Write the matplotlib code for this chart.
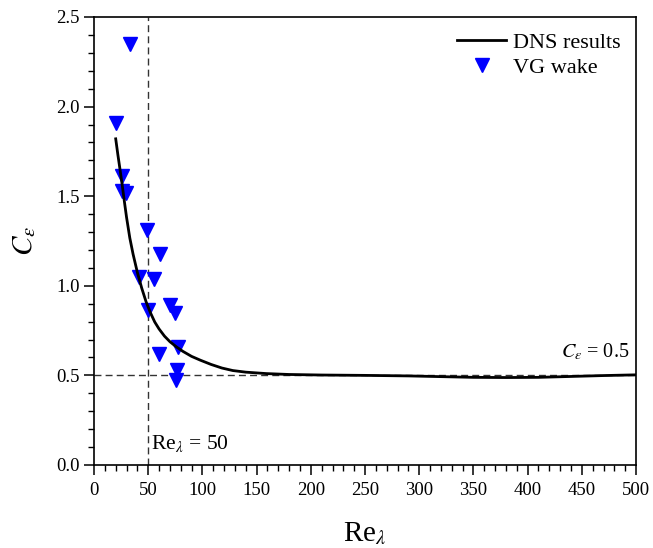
import matplotlib
matplotlib.use("Agg")
import matplotlib.pyplot as plt
import numpy as np

plt.rcParams['font.family'] = ['Liberation Serif', 'DejaVu Serif']
plt.rcParams['mathtext.fontset'] = 'stix'

# DNS curve
dns_re = [20, 22, 24, 26, 28, 30, 33, 36, 40, 44, 48, 52, 56, 60, 65, 70, 76, 82, 90,
          98, 108, 118, 128, 140, 159, 180, 210, 250, 290, 320, 350, 380, 410, 440,
          470, 500]
dns_ce = [1.82, 1.731, 1.648, 1.562, 1.470, 1.382, 1.267, 1.177, 1.074, 0.987, 0.911,
          0.850, 0.798, 0.759, 0.719, 0.688, 0.659, 0.634, 0.606, 0.585, 0.561, 0.541,
          0.527, 0.518, 0.510, 0.505, 0.502, 0.500, 0.497, 0.493, 0.489, 0.488, 0.489,
          0.494, 0.499, 0.503]

# VG wake data
vg_re = [33.2, 20, 25.5, 25.5, 29.5, 48.6, 60.9, 41.5, 55.7, 70, 75, 49.8, 77.8, 60.3, 76.9, 75.6]
vg_ce = [2.35, 1.91, 1.61, 1.53, 1.52, 1.31, 1.18, 1.05, 1.036, 0.89, 0.85, 0.865, 0.657, 0.62, 0.53, 0.474]

fig = plt.figure(figsize=(6.53, 5.48), dpi=100)
ax = fig.add_axes([0.144, 0.1515, 0.830, 0.8175])

ax.axvline(50, color='#333333', lw=1.0, ls=(0, (5, 3)), zorder=1)
ax.axhline(0.5, color='#333333', lw=1.0, ls=(0, (5, 3)), zorder=1)

ax.plot(dns_re, dns_ce, color='black', lw=2.0, label='DNS results', zorder=3,
        solid_joinstyle='round')
ax.plot(vg_re, vg_ce, ls='none', marker='v', ms=10.5, color='#0000ff',
        markeredgecolor='#0000ff', label='VG wake', zorder=2)

ax.set_xlim(0, 500)
ax.set_ylim(0, 2.5)
ax.set_xticks(np.arange(0, 501, 50))
ax.set_xticks(np.arange(0, 501, 10), minor=True)
ax.set_yticks(np.arange(0, 2.51, 0.5))
ax.set_yticks(np.arange(0, 2.51, 0.1), minor=True)
ax.set_yticklabels([f'{v:.1f}' for v in np.arange(0, 2.51, 0.5)])
ax.tick_params(which='major', direction='out', length=7, width=1.1, labelsize=13.5)
ax.tick_params(axis='x', which='major', pad=5)
ax.tick_params(which='minor', direction='out', length=4, width=1.0)
for s in ax.spines.values():
    s.set_linewidth(1.2)

ax.set_xlabel(r'Re$_{\lambda}$', fontsize=21, labelpad=16)
ax.set_ylabel(r'$C_{\varepsilon}$', fontsize=21, labelpad=13)

ax.text(53, 0.06, r'Re$_{\lambda}$ = 50', fontsize=15.5, ha='left', va='bottom')
ax.text(494, 0.575, r'$C_{\varepsilon}$ = 0.5', fontsize=14.5, ha='right', va='bottom')

leg = ax.legend(loc='upper right', frameon=False, fontsize=16, handlelength=2.2,
                borderaxespad=0.3, handletextpad=0.3, labelspacing=0.2)

fig.savefig('out.png', dpi=100)
